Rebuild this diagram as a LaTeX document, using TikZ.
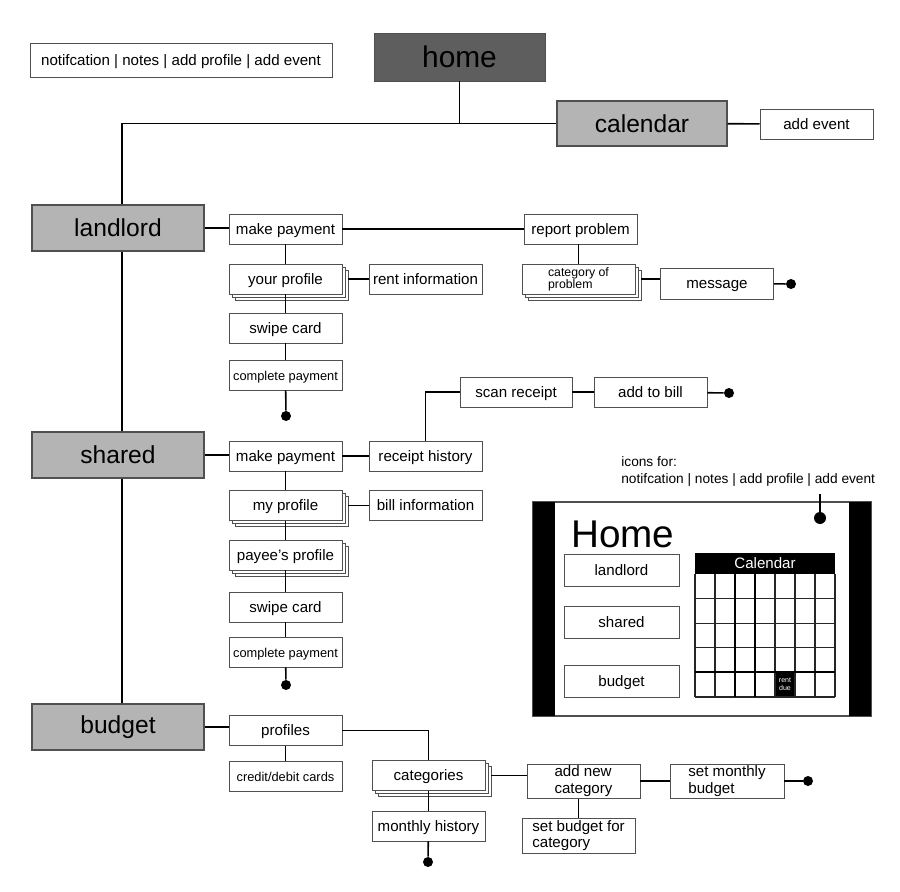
\documentclass[tikz,border=0pt]{standalone}
\usepackage{fontspec}
\setmainfont{Liberation Sans}
\usepackage{tikz}
\usetikzlibrary{shadows}
\definecolor{homegrey}{HTML}{5E5E5E}
\definecolor{secgrey}{HTML}{B4B4B4}
\definecolor{edgegrey}{HTML}{505050}

\tikzset{
    plain/.style={
        draw=edgegrey, line width=0.5pt, fill=white,
        minimum width=2.26cm, minimum height=0.6cm, inner sep=1pt,
        font=\fontsize{8.6}{9.4}\selectfont
    },
    box/.style={plain, text height=1.6ex, text depth=0.45ex},
    smallbox/.style={box, font=\fontsize{7.3}{7.6}\selectfont},
    stack/.style={
        box,
        general shadow={shadow xshift=1.2mm, shadow yshift=-1.2mm, fill=white, draw=edgegrey},
        general shadow={shadow xshift=0.6mm, shadow yshift=-0.6mm, fill=white, draw=edgegrey}
    },
    section/.style={
        draw=edgegrey, line width=0.6pt, fill=secgrey,
        minimum width=3.44cm, minimum height=0.92cm,
        font=\fontsize{14}{16}\selectfont
    },
    endpoint/.style={circle, fill=black, inner sep=0pt, minimum size=0.2cm},
    link/.style={black, line width=0.9pt},
}

\begin{document}
\begin{tikzpicture}[x=0.02cm, y=-0.02cm]

    \useasboundingbox (0,0) rectangle (900,892);

    % top row
    \node[box, minimum width=6.04cm, minimum height=0.68cm] (notes) at (181,60)
        {notifcation | notes | add profile | add event};
    \node[
        draw=edgegrey,
        fill=homegrey,
        minimum width=3.42cm,
        minimum height=0.96cm,
        font=\fontsize{17}{19}\selectfont
    ] (home) at (459.5,57) {home};
    \node[section, minimum width=3.4cm, minimum height=0.9cm] (cal) at (642,123.5) {calendar};
    \node[box] (addev) at (816.5,124) {add event};

    % landlord
    \node[section] (land) at (118,228) {landlord};
    \node[box] (lpay) at (285.5,229) {make payment};
    \node[box] (rprob) at (580.5,229) {report problem};
    \node[
        plain,
        general shadow={shadow xshift=1.2mm, shadow yshift=-1.2mm, fill=white, draw=edgegrey},
        general shadow={shadow xshift=0.6mm, shadow yshift=-0.6mm, fill=white, draw=edgegrey},
        font=\fontsize{7}{7}\selectfont,
        align=left
    ] (catprob) at (578.5,279) {category of\\problem};
    \node[box, minimum height=0.62cm] (msg) at (717,283.5) {message};
    \node[endpoint] (end1) at (791,284) {};
    \node[stack] (yprof) at (285.5,279) {your profile};
    \node[box] (rinfo) at (425.5,279) {rent information};
    \node[box] (lswipe) at (285.5,328) {swipe card};
    \node[smallbox] (lcomp) at (285.5,375) {complete payment};
    \node[endpoint] (end2) at (286,416) {};

    % shared
    \node[section] (shared) at (118,455) {shared};
    \node[box] (spay) at (285.5,456) {make payment};
    \node[box] (rhist) at (425.5,456) {receipt history};
    \node[box, minimum width=2.24cm] (scan) at (516,392) {scan receipt};
    \node[box] (addbill) at (650.5,392) {add to bill};
    \node[endpoint] (end3) at (729,393) {};
    \node[stack] (mprof) at (285.5,505.5) {my profile};
    \node[box] (binfo) at (425.5,505) {bill information};
    \node[stack] (payee) at (285.5,555) {payee's profile};
    \node[box] (sswipe) at (285.5,607) {swipe card};
    \node[smallbox] (scomp) at (285.5,652) {complete payment};
    \node[endpoint] (end4) at (286,685) {};

    % budget
    \node[section] (budget) at (118,727) {budget};
    \node[box] (profs) at (285.5,730.5) {profiles};
    \node[smallbox] (cards) at (285.5,776) {credit/debit cards};
    \node[stack] (cats) at (428.5,775.5) {categories};
    \node[box] (mhist) at (428.5,826) {monthly history};
    \node[endpoint] (end5) at (428,862) {};
    \node[plain, minimum height=0.68cm, align=left] (addcat) at (583.5,781)
        {add new\\category};
    \node[plain, minimum width=2.28cm, minimum height=0.66cm, align=left] (setmb) at (727,781)
        {set monthly\\budget};
    \node[endpoint] (end6) at (808,781) {};
    \node[plain, minimum height=0.7cm, align=left] (setbc) at (578.5,835.5)
        {set budget for\\category};

    % connectors
    \draw[link] (home.south) -- (home.south |- cal.west);
    \draw[link] (cal.west) -| ([xshift=0.08cm]land.north);
    \draw[link] (cal) -- (addev);
    \draw[link] ([xshift=0.08cm]land.south) -- ([xshift=0.08cm]shared.north);
    \draw[link] ([xshift=0.08cm]shared.south) -- ([xshift=0.08cm]budget.north);

    \draw[link] (land.east) -- (land.east -| lpay.west);
    \draw[link] (lpay) -- (rprob);
    \draw[link] (catprob.north) -- (catprob.north |- rprob.south);
    \draw[link] ([xshift=1.2mm]catprob.east) -- (catprob.east -| msg.west);
    \draw[link] (msg) -- (end1);
    \draw[link] (lpay) -- (yprof);
    \draw[link] ([xshift=1.2mm]yprof.east) -- (rinfo);
    \draw[link] (yprof) -- (lswipe);
    \draw[link] (lswipe) -- (lcomp);
    \draw[link] (lcomp) -- (end2);

    \draw[link] (shared.east) -- (shared.east -| spay.west);
    \draw[link] (spay) -- (rhist);
    \draw[link] (rhist.north) |- (scan.west);
    \draw[link] (scan) -- (addbill);
    \draw[link] (addbill) -- (end3);
    \draw[link] (spay) -- (mprof);
    \draw[link] ([xshift=1.2mm]mprof.east) -- (mprof.east -| binfo.west);
    \draw[link] (mprof) -- (payee);
    \draw[link] (payee) -- (sswipe);
    \draw[link] (sswipe) -- (scomp);
    \draw[link] (scomp) -- (end4);

    \draw[link] (budget.east) -- (budget.east -| profs.west);
    \draw[link] (profs) -- (cards);
    \draw[link] (profs.east) -| (cats.north);
    \draw[link] (cats) -- (mhist);
    \draw[link] (mhist) -- (end5);
    \draw[link] ([xshift=1.2mm]cats.east) -- (cats.east -| addcat.west);
    \draw[link] (addcat) -- (setmb);
    \draw[link] (setmb) -- (end6);
    \draw[link] (setbc.north) -- (setbc.north |- addcat.south);

    % home screen sketch
    \node[anchor=north west, align=left, inner sep=0pt, font=\fontsize{7.8}{9.6}\selectfont]
        (icons) at (621,456) {icons for:\\notifcation | notes | add profile | add event};
    \draw[draw=edgegrey, line width=0.6pt] (533,502) rectangle (871,716);
    \fill[black] (533,502) rectangle (555,716);
    \fill[black] (849,502) rectangle (871,716);
    \coordinate (icontop) at (820,494);
    \node[circle, fill=black, inner sep=0pt, minimum size=0.24cm] (icondot) at (820,518) {};
    \draw[link] (icontop) -- (icondot);
    \node[anchor=base west, inner sep=0pt, font=\fontsize{22}{24}\selectfont] (title) at (571,547) {Home};
    \node[box, minimum width=2.3cm, minimum height=0.64cm] (mland) at (621.5,570) {landlord};
    \node[box, minimum width=2.3cm, minimum height=0.64cm] (mshare) at (621.5,622.5) {shared};
    \node[box, minimum width=2.3cm, minimum height=0.64cm] (mbud) at (621.5,681.5) {budget};

    % calendar grid
    \fill[black] (695,553) rectangle (835,574);
    \node[white, font=\fontsize{8.6}{9}\selectfont] (calhead) at (765,563.5) {Calendar};
    \fill[black] (775,672) rectangle (795,697);
    \node[white, align=center, inner sep=0pt, font=\fontsize{4}{4.6}\selectfont] (rent) at (785,684.5)
        {rent\\due};
    \foreach \i in {0,...,7}
        \draw[black!85, line width=0.6pt] ({695+20*\i},574) -- ({695+20*\i},697);
    \foreach \j in {1,...,5}
        \draw[black!85, line width=0.6pt] (695,{574+24.6*\j}) -- (835,{574+24.6*\j});
    \draw[black, line width=0.9pt] (735,574) -- (735,697);
    \draw[black, line width=0.9pt] (755,574) -- (755,697);
    \draw[black, line width=0.9pt] (695,672) -- (835,672);

\end{tikzpicture}
\end{document}
